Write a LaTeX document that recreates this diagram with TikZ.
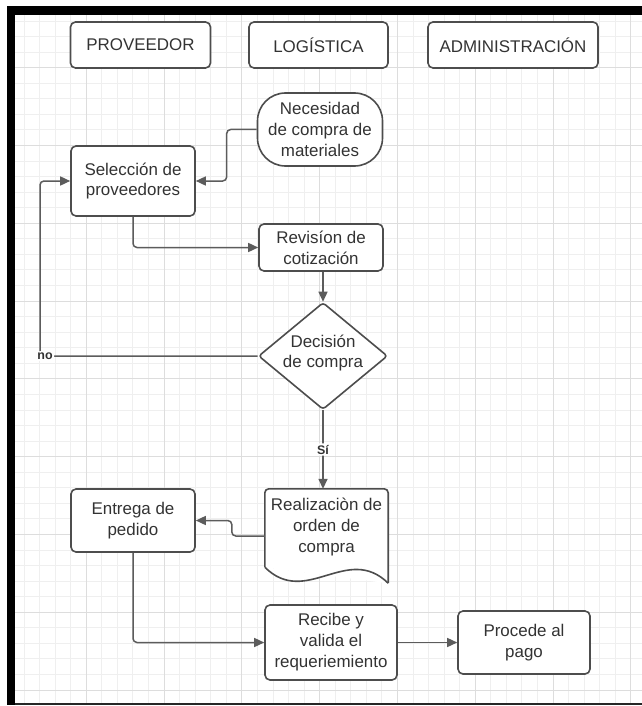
\documentclass[tikz,border=0pt]{standalone}
\usepackage{fontspec}
\setmainfont{Liberation Sans}
\usetikzlibrary{arrows.meta,shapes.geometric,calc}
\definecolor{txt}{HTML}{333333}
\definecolor{edgec}{HTML}{4D4D4D}
\definecolor{connc}{HTML}{5C5C5C}
\definecolor{gminor}{HTML}{EFEFEF}
\definecolor{gmajor}{HTML}{DDDDDD}
\begin{document}
\begin{tikzpicture}[x=1bp,y=-1bp,
  txtstyle/.style={text=txt, font=\fontsize{17}{21}\selectfont, align=center, inner sep=0pt},
  box/.style={txtstyle, draw=edgec, line width=1.6bp, rounded corners=5bp, fill=white},
  decision/.style={diamond, draw=edgec, line width=1.6bp, rounded corners=3bp, fill=white, inner sep=0pt, minimum width=129bp, minimum height=107bp},
  arr/.style={draw=connc, line width=1.5bp, rounded corners=4bp, -{Triangle[length=10bp,width=9bp]}},
  lbl/.style={text=txt, font=\bfseries\fontsize{12.5}{14}\selectfont, fill=white, inner sep=1.5bp},
  minorgrid/.style={draw=gminor, line width=1bp},
  majorgrid/.style={draw=gmajor, line width=1bp}
]
\useasboundingbox (0,0) rectangle (642,706);
\fill[white] (0,0) rectangle (642,706);
% grid
\begin{scope}
  \clip (15,15) rectangle (642,703);
  \foreach \i in {0,...,42} { \draw[minorgrid] ({8.5+15.56*\i},15) -- ({8.5+15.56*\i},703); }
  \foreach \i in {0,...,45} { \draw[minorgrid] (15,{5.46+15.56*\i}) -- (642,{5.46+15.56*\i}); }
  \foreach \i in {0,...,8} { \draw[majorgrid] ({8.5+77.8*\i},15) -- ({8.5+77.8*\i},703); }
  \foreach \i in {0,...,9} { \draw[majorgrid] (15,{-10.1+77.8*\i}) -- (642,{-10.1+77.8*\i}); }
\end{scope}
% frame
\fill[black] (7,6) rectangle (642,15);
\fill[black] (7,6) rectangle (15,705);
\draw[black!85, line width=1.5bp] (15,704) -- (642,704);

% header boxes
\node[box, minimum width=140bp, minimum height=46bp] (hprov) at (140.5,45) {PROVEEDOR};
\node[box, minimum width=139bp, minimum height=46bp] (hlog) at (318.5,45) {LOGÍSTICA};
\node[box, minimum width=170bp, minimum height=46bp] (hadm) at (513,45) {ADMINISTRACIÓN};

% flow nodes
\node[box, rounded corners=28bp, minimum width=125bp, minimum height=73bp] (nec) at (320,129.5) {Necesidad\\de compra de\\materiales};
\node[box, minimum width=124bp, minimum height=70bp] (sel) at (133,181) {Selección de\\proveedores};
\node[box, minimum width=124bp, minimum height=47bp] (rev) at (321,247.5) {Revisíon de\\cotización};
\node[decision] (dec) at (323,356) {};
\node[txtstyle] (dectext) at (323,353) {Decisión\\de compra};

\node[minimum width=123bp, minimum height=94bp, inner sep=0pt] (doc) at (326.5,536) {};
\draw[draw=edgec, line width=1.6bp, fill=white, rounded corners=4bp]
  ($(doc.south west)+(0,-16)$) -- (doc.north west) -- (doc.north east) -- (doc.south east);
\draw[draw=edgec, line width=1.6bp, fill=white]
  ($(doc.south west)+(0,-16)$) .. controls (306,608) and (347,543) .. (doc.south east);
\fill[white] ($(doc.north west)+(1,4)$) rectangle ($(doc.south east)+(-1,-18)$);
\node[txtstyle] (doctext) at (326.5,527) {Realizaciòn de\\orden de\\compra};

\node[box, minimum width=124bp, minimum height=63bp] (ent) at (133,520.5) {Entrega de\\pedido};
\node[box, minimum width=132bp, minimum height=75bp] (rec) at (331,642.5) {Recibe y\\valida el\\requeriemiento};
\node[box, minimum width=132bp, minimum height=63bp] (pro) at (524,642.5) {Procede al\\pago};

% connectors
\coordinate (nocorner) at (40,356);
\draw[arr] (nec.west) -- ++(-30,0) |- (sel.east);
\draw[arr] (sel.south) |- (rev.west);
\draw[arr] (rev.south -| dec.north) -- (dec.north);
\draw[arr] (dec.west) -- (nocorner) node[lbl, xshift=5bp] (nolbl) {no} |- (sel.west);
\draw[arr] (dec.south) -- node[lbl] (silbl) {Sí} (dec.south |- doc.north);
\draw[arr] (doc.west) -- ++(-33,0) |- (ent.east);
\draw[arr] (ent.south) |- (rec.west);
\draw[arr] (rec.east) -- (pro.west);
\end{tikzpicture}
\end{document}
